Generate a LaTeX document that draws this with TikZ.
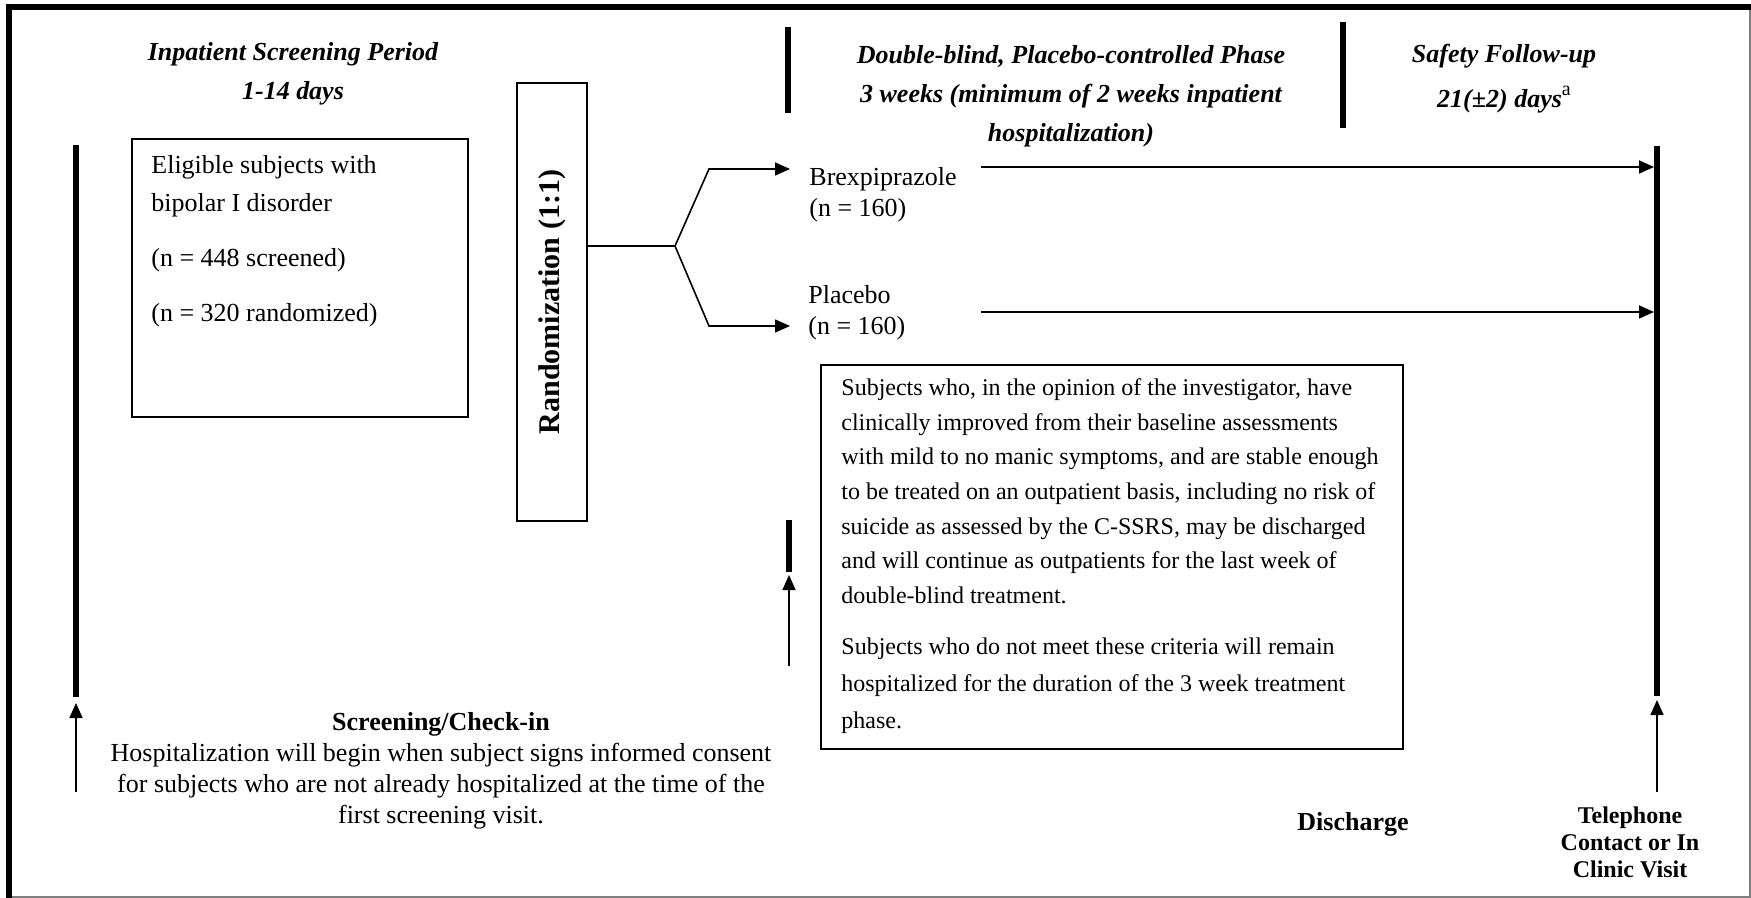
\documentclass[tikz,border=0pt]{standalone}
\usepackage{fontspec}
\setmainfont{Liberation Serif}
\usetikzlibrary{arrows.meta, positioning}

\tikzset{
  border/.style={line width=3pt},
  boxed/.style={draw, line width=0.9pt, inner sep=0pt},
  conn/.style={line width=0.8pt},
  arr/.style={conn, -{Triangle[length=7.5pt,width=6.5pt]}},
  tline/.style={line width=3.2pt},
  hdr/.style={font=\fontsize{13}{19.5}\selectfont\bfseries\itshape, align=center, inner sep=0pt},
  txt/.style={font=\fontsize{13}{15.5}\selectfont, inner sep=0pt, align=left},
}

\begin{document}
\begin{tikzpicture}[x=0.5pt, y=-0.5pt]
    \useasboundingbox (0,0) rectangle (1751,898);

    % Outer frame
    \draw[gray, line width=0.6pt] (1750,8) -- (1750,897) -- (12,897);
    \draw[border] (9,898) -- (9,7) -- (1751,7);

    % Period headings
    \node[hdr] (screenhead) at (293,74) {Inpatient Screening Period\\1-14 days};
    \node[hdr] (dbhead) at (1071,96) {Double-blind, Placebo-controlled Phase\\3 weeks (minimum of 2 weeks inpatient\\hospitalization)};
    \node[hdr, font=\fontsize{13}{22.5}\selectfont\bfseries\itshape] (fuhead) at (1504,79)
        {Safety Follow-up\\21(±2) days\raisebox{6pt}{\normalfont\fontsize{10}{10}\selectfont a}};
    \draw[tline] (788,27) -- (788,113);
    \draw[tline] (1343,22) -- (1343,128);

    % Boxes
    \node[boxed, anchor=north west, minimum width=168pt, minimum height=139pt] (elig) at (131,138) {};
    \node[txt, anchor=north west, font=\fontsize{13}{19}\selectfont] (eligtext) at (151,155)
        {Eligible subjects with\\bipolar I disorder\\[8.5pt](n = 448 screened)\\[8.5pt](n = 320 randomized)};
    \node[boxed, rotate=90, minimum width=219pt, minimum height=35pt,
          font=\fontsize{15}{17}\selectfont\bfseries] (rand) at (552,302) {Randomization (1:1)};
    \node[boxed, anchor=north west, minimum width=291pt, minimum height=192pt] (crit) at (820,364) {};
    \node[txt, anchor=north west, font=\fontsize{12}{17.35}\selectfont] (crittext) at (841,378)
        {Subjects who, in the opinion of the investigator, have\\
         clinically improved from their baseline assessments\\
         with mild to no manic symptoms, and are stable enough\\
         to be treated on an outpatient basis, including no risk of\\
         suicide as assessed by the C-SSRS, may be discharged\\
         and will continue as outpatients for the last week of\\
         double-blind treatment.\\[8.2pt]
         Subjects who do not meet these criteria will remain\\[1pt]
         hospitalized for the duration of the 3 week treatment\\[1pt]
         phase.};

    % Treatment arms
    \node[txt, anchor=north west] (brex) at (809,167) {Brexpiprazole\\(n = 160)};
    \node[txt, anchor=north west] (plac) at (808,285) {Placebo\\(n = 160)};

    % Randomization split
    \coordinate (split) at (675,246);
    \coordinate (brexknee) at (709,169);
    \coordinate (placknee) at (709,326);
    \coordinate (brexin) at (790,169);
    \coordinate (placin) at (790,326);
    \draw[conn] (split -| rand.south) -- (split);
    \draw[arr] (split) -- (brexknee) -- (brexin);
    \draw[arr] (split) -- (placknee) -- (placin);

    % Timelines
    \coordinate (scrtop) at (76,145);
    \coordinate (scrbot) at (76,697);
    \coordinate (scrtip) at (76,703);
    \coordinate (scrfoot) at (76,792);
    \coordinate (distop) at (789,520);
    \coordinate (disbot) at (789,572);
    \coordinate (distip) at (789,575);
    \coordinate (disfoot) at (789,666);
    \coordinate (futop) at (1657,146);
    \coordinate (fubot) at (1657,696);
    \coordinate (futip) at (1657,700);
    \coordinate (fufoot) at (1657,792);
    \draw[tline] (scrtop) -- (scrbot);
    \draw[tline] (distop) -- (disbot);
    \draw[tline] (futop) -- (fubot);
    \draw[arr] (scrfoot) -- (scrtip);
    \draw[arr] (disfoot) -- (distip);
    \draw[arr] (fufoot) -- (futip);

    % Arms run to follow-up
    \coordinate (brexgo) at (981,167);
    \coordinate (placgo) at (981,312);
    \draw[arr, line width=0.9pt] (brexgo) -- ([xshift=-1.5pt]brexgo -| futop);
    \draw[arr, line width=0.9pt] (placgo) -- ([xshift=-1.5pt]placgo -| futop);

    % Milestones
    \node[txt, anchor=north, align=center] (checkin) at (441,712)
        {\textbf{Screening/Check-in}\\Hospitalization will begin when subject signs informed consent\\for subjects who are not already hospitalized at the time of the\\first screening visit.};
    \node[txt, font=\fontsize{13}{15.5}\selectfont\bfseries] (discharge) at (1353,824) {Discharge};
    \node[txt, anchor=north, align=center, font=\fontsize{12}{13.5}\selectfont\bfseries] (phone) at (1630,806)
        {Telephone\\Contact or In\\Clinic Visit};
\end{tikzpicture}
\end{document}
